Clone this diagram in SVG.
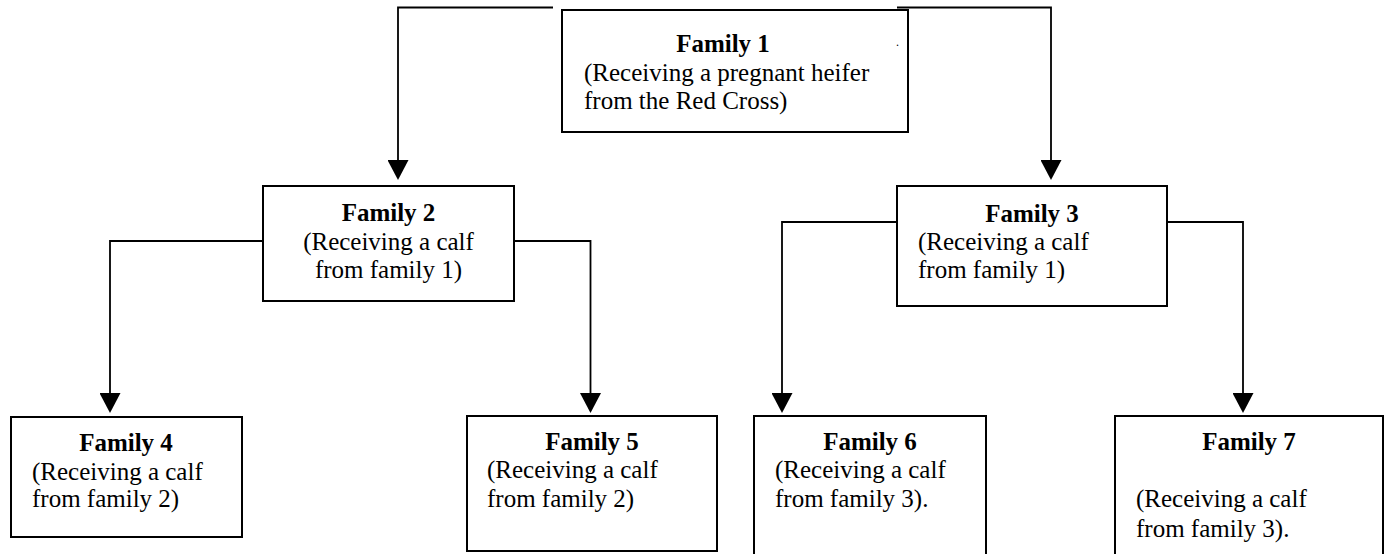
<svg xmlns="http://www.w3.org/2000/svg" width="1389" height="554" viewBox="0 0 1389 554">
<style>
.box{fill:#fff;stroke:#000;stroke-width:2}
.t{font-family:"Liberation Serif","Times New Roman",serif;font-size:25px;fill:#000}
.b{font-weight:bold;text-anchor:middle}
.c{text-anchor:middle}
.con{fill:none;stroke:#000;stroke-width:1.8;marker-end:url(#arr)}
</style>
<defs>
<marker id="arr" markerUnits="userSpaceOnUse" markerWidth="20" markerHeight="21" viewBox="0 -10.5 20 21" refX="0" refY="0" orient="auto">
<path d="M0,-10.5 L20,0 L0,10.5 z" fill="#000"/>
</marker>
</defs>
<rect width="1389" height="554" fill="#fff"/>
<g id="connectors">
<path class="con" d="M553,7.5 H398 V160"/>
<path class="con" d="M897,7.5 H1051 V160"/>
<path class="con" d="M263,241 H110 V393"/>
<path class="con" d="M514,241 H590.5 V393"/>
<path class="con" d="M897,222 H782 V393"/>
<path class="con" d="M1167,222 H1243 V393"/>
</g>
<g id="family1">
<rect class="box" x="562" y="10" width="346" height="122"/>
<text class="t b" x="723" y="52">Family 1</text>
<text class="t" x="584" y="81">(Receiving a pregnant heifer</text>
<text class="t" x="584" y="109">from the Red Cross)</text>
<text class="t" x="896" y="46" style="font-size:12px">.</text>
</g>
<g id="family2">
<rect class="box" x="263" y="186" width="251" height="115"/>
<text class="t b" x="388.5" y="221">Family 2</text>
<text class="t c" x="388.5" y="250">(Receiving a calf</text>
<text class="t c" x="388.5" y="278">from family 1)</text>
</g>
<g id="family3">
<rect class="box" x="897" y="186" width="270" height="120"/>
<text class="t b" x="1032" y="222">Family 3</text>
<text class="t" x="918" y="250">(Receiving a calf</text>
<text class="t" x="918" y="278">from family 1)</text>
</g>
<g id="family4">
<rect class="box" x="11" y="417" width="231" height="120"/>
<text class="t b" x="126" y="451">Family 4</text>
<text class="t" x="32" y="480">(Receiving a calf</text>
<text class="t" x="32" y="507">from family 2)</text>
</g>
<g id="family5">
<rect class="box" x="467" y="416" width="250" height="135"/>
<text class="t b" x="592" y="450">Family 5</text>
<text class="t" x="487" y="478">(Receiving a calf</text>
<text class="t" x="487" y="507">from family 2)</text>
</g>
<g id="family6">
<rect class="box" x="754" y="416" width="232" height="150"/>
<text class="t b" x="870" y="450">Family 6</text>
<text class="t" x="775" y="478">(Receiving a calf</text>
<text class="t" x="775" y="507">from family 3).</text>
</g>
<g id="family7">
<rect class="box" x="1115" y="416" width="268" height="150"/>
<text class="t b" x="1249" y="450">Family 7</text>
<text class="t" x="1136" y="507">(Receiving a calf</text>
<text class="t" x="1136" y="537">from family 3).</text>
</g>
</svg>
